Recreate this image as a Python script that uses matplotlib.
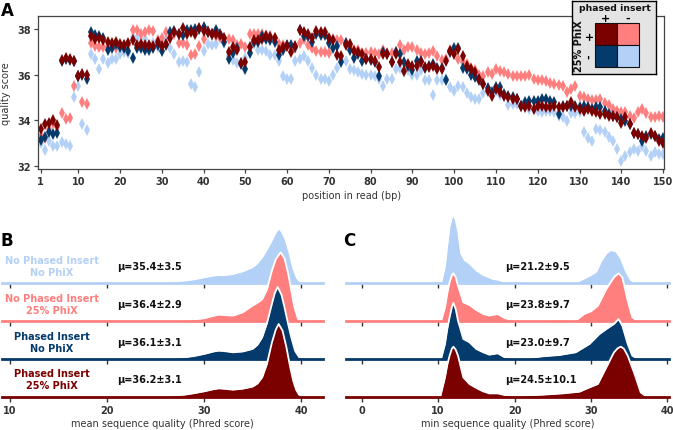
import numpy as np
import matplotlib
matplotlib.use("Agg")
import matplotlib.pyplot as plt
from matplotlib.patches import Rectangle

plt.rcParams["font.family"] = ["DejaVu Sans"]

# ---- panel A: mean quality per position ----
positions = np.arange(1, 151)

q_phased_phix = [
    33.6, 33.85, 33.9, 34.0, 33.8, 36.65, 36.75, 36.7, 36.6, 35.95,
    36.05, 36.0, 37.7, 37.55, 37.6, 37.5, 37.45, 37.4, 37.45, 37.35,
    37.3, 37.4, 37.5, 37.3, 37.35, 37.3, 37.3, 37.25, 37.45, 37.25,
    37.35, 37.6, 37.85, 37.8, 38.05, 37.8, 37.85, 37.8, 38.05, 37.9,
    37.85, 37.8, 37.8, 37.75, 37.6, 37.0, 37.2, 37.1, 36.5, 36.55,
    37.2, 37.5, 37.5, 37.55, 37.7, 37.65, 37.6, 37.1, 37.2, 37.25,
    37.0, 37.25, 37.95, 37.85, 37.8, 37.6, 37.9, 37.85, 37.85, 37.6,
    37.5, 36.85, 36.8, 37.3, 37.35, 37.05, 36.98, 36.9, 36.68, 36.68,
    36.61, 36.32, 36.9, 36.9, 36.54, 36.9, 36.54, 36.17, 36.46, 36.39,
    36.39, 36.54, 36.32, 36.32, 36.39, 36.24, 36.24, 36.61, 37.05, 36.9,
    37.12, 36.83, 36.39, 36.24, 36.1, 35.8, 35.58, 35.29, 35.07, 35.36,
    35.22, 35.07, 35.0, 34.93, 34.93, 34.63, 34.56, 34.63, 34.49, 34.63,
    34.63, 34.56, 34.56, 34.63, 34.56, 34.56, 34.63, 34.78, 34.56, 34.49,
    34.41, 34.49, 34.41, 34.34, 34.27, 34.27, 34.19, 34.19, 34.12, 33.9,
    34.12, 33.83, 33.46, 33.39, 33.31, 33.24, 33.46, 33.31, 33.1, 33.02,
]
q_phased_nophix = [
    33.15, 33.25, 33.5, 33.4, 33.45, 36.6, 36.7, 36.65, 36.6, 35.95,
    36.0, 35.8, 37.85, 37.75, 37.7, 37.6, 37.1, 37.15, 37.35, 37.2,
    37.15, 37.05, 36.75, 37.15, 37.15, 37.1, 37.1, 37.15, 37.3, 37.05,
    37.3, 37.85, 37.9, 37.8, 37.75, 37.95, 37.95, 38.0, 38.0, 38.1,
    37.85, 37.8, 37.95, 37.8, 37.45, 36.7, 36.95, 37.15, 36.45, 36.25,
    36.95, 37.45, 37.45, 37.7, 37.55, 37.5, 37.45, 36.85, 37.1, 37.3,
    37.3, 37.2, 37.95, 37.7, 37.7, 37.45, 37.8, 37.75, 37.75, 37.4,
    37.15, 37.25, 36.55, 37.4, 37.1, 36.75, 36.9, 36.6, 36.7, 36.65,
    36.55, 35.95, 37.0, 36.9, 36.55, 37.0, 36.9, 36.55, 36.4, 36.2,
    36.6, 36.6, 36.3, 36.4, 36.45, 36.3, 36.3, 35.75, 37.0, 37.15,
    37.15, 36.3, 36.25, 36.0, 35.9, 35.75, 35.6, 35.4, 35.25, 35.45,
    35.45, 35.15, 35.07, 35.0, 34.93, 34.63, 34.78, 34.85, 34.85, 34.85,
    34.93, 34.93, 34.85, 34.78, 34.27, 34.63, 34.63, 34.63, 34.63, 34.56,
    34.63, 34.56, 34.49, 34.56, 34.56, 34.41, 34.27, 34.19, 34.12, 34.05,
    33.97, 33.83, 33.46, 33.39, 33.1, 33.31, 33.39, 33.31, 33.17, 33.24,
]
q_nophased_phix = [
    33.3, 33.2, 33.6, 33.9, 33.7, 34.3, 34.05, 34.1, 35.5, 35.95,
    34.8, 34.7, 37.4, 37.25, 37.2, 37.2, 37.2, 37.25, 37.15, 37.25,
    37.3, 37.3, 37.95, 37.95, 37.8, 37.85, 37.95, 37.9, 37.5, 37.6,
    37.85, 37.6, 37.8, 37.4, 37.4, 37.3, 36.85, 36.9, 37.25, 37.55,
    37.9, 37.8, 37.7, 37.65, 37.6, 37.55, 37.5, 37.3, 37.35, 37.2,
    37.8, 37.8, 37.8, 37.8, 37.75, 37.7, 37.6, 37.35, 37.3, 37.25,
    37.2, 37.15, 37.4, 37.55, 37.3, 37.15, 37.05, 37.0, 37.0, 36.95,
    37.55, 37.5, 37.5, 37.4, 37.25, 37.1, 37.1, 36.95, 36.95, 37.0,
    36.95, 36.9, 37.1, 36.95, 36.95, 37.0, 37.3, 37.1, 37.2, 37.2,
    37.1, 36.95, 36.9, 36.95, 37.05, 36.8, 36.65, 36.7, 37.1, 36.95,
    36.7, 36.55, 36.45, 36.3, 36.2, 36.0, 35.95, 36.1, 36.05, 36.25,
    36.15, 36.1, 36.05, 35.95, 35.95, 35.95, 35.95, 36.0, 35.8, 35.75,
    35.75, 35.7, 35.65, 35.6, 35.55, 35.5, 35.25, 35.35, 35.5, 35.05,
    35.0, 34.95, 34.9, 34.9, 34.95, 34.75, 34.65, 34.5, 34.4, 34.35,
    34.35, 34.2, 34.1, 34.35, 34.5, 34.3, 34.15, 34.15, 34.2, 34.15,
]
q_nophased_nophix = [
    33.0, 32.7, 33.1, 32.85, 32.85, 33.05, 32.95, 32.85, 35.0, 35.5,
    33.85, 33.55, 36.9, 36.7, 36.25, 36.7, 36.5, 36.7, 36.7, 36.9,
    37.0, 36.95, 37.65, 37.6, 37.3, 37.55, 37.2, 37.4, 37.2, 37.35,
    37.5, 37.15, 36.9, 36.55, 36.6, 36.55, 35.6, 35.45, 36.1, 37.05,
    37.35, 37.3, 37.35, 37.6, 37.4, 36.8, 36.65, 36.5, 36.5, 36.75,
    37.2, 37.35, 37.1, 37.1, 37.05, 36.85, 36.85, 36.6, 35.95, 35.8,
    35.8, 36.6, 36.7, 36.8, 36.6, 36.3, 36.0, 35.8, 35.8, 35.7,
    36.0, 36.3, 36.65, 36.6, 36.25, 36.2, 36.1, 36.05, 36.0, 36.0,
    35.95, 35.8, 35.5, 35.8, 35.8, 36.25, 36.3, 36.1, 36.2, 36.0,
    36.0, 36.2, 35.75, 35.75, 35.1, 35.75, 35.75, 35.8, 35.45, 35.3,
    35.5, 35.45, 35.2, 35.0, 34.95, 34.95, 35.2, 35.35, 35.1, 35.3,
    35.1, 35.05, 34.65, 34.7, 34.7, 34.65, 34.65, 34.5, 34.45, 34.4,
    34.35, 34.4, 34.4, 34.35, 34.2, 34.12, 33.97, 34.3, 34.3, 34.35,
    33.5, 33.2, 33.1, 33.6, 33.55, 33.5, 33.25, 33.1, 32.75, 32.2,
    32.45, 32.6, 32.75, 32.65, 32.85, 32.65, 32.45, 32.6, 32.5, 32.5,
]

b_lb_x = [9.2, 20, 24, 26, 28, 29, 30, 31, 31.5, 32, 33, 34, 35, 35.5, 36, 36.5, 37, 37.4, 37.7, 38, 38.4, 38.8, 39.2, 39.6, 40, 40.5, 42.3]
b_lb_y = [0, 0, 0.5, 1.2, 2.7, 4, 6, 7.8, 8.3, 8.0, 9.3, 12, 16, 20, 26, 34, 43, 51, 55, 52, 44, 31, 15, 5, 1, 0, 0]
b_pk_x = [9.2, 22, 26, 28, 29, 30, 31, 31.5, 32, 33, 34, 35, 35.5, 36, 36.5, 37, 37.4, 37.9, 38.3, 38.7, 39.0, 39.3, 39.7, 40, 42.3]
b_pk_y = [0, 0, 0.4, 1, 2, 3, 5.5, 6.7, 6.3, 5.7, 9, 15.7, 18.5, 22, 32, 50.7, 62, 69, 63, 47, 31, 15, 2.3, 0.3, 0]
b_db_x = [9.2, 22, 26, 28, 29, 30, 31, 31.5, 32, 33, 34, 35, 35.5, 36, 36.5, 37, 37.3, 37.6, 38.0, 38.3, 38.7, 39.0, 39.4, 39.8, 40.2, 42.3]
b_db_y = [0, 0, 0.5, 1.7, 3, 5, 7.5, 8.3, 8, 6.7, 7.5, 10, 14, 21.7, 36, 55, 66, 72, 64, 51.7, 34, 21.7, 8, 2, 0.3, 0]
b_dr_x = [9.2, 22, 26, 28, 29, 30, 31, 31.5, 32, 33, 34, 35, 35.5, 36, 36.5, 37, 37.4, 37.7, 38.1, 38.5, 38.9, 39.2, 39.5, 39.8, 40.2, 42.3]
b_dr_y = [0, 0, 0.6, 2, 3.5, 5.3, 7.5, 8.3, 8, 7, 8, 10, 13, 19.3, 33, 54, 67, 72.7, 66, 49.3, 29, 16, 7, 2, 0.3, 0]

# ---- panel C: min sequence quality densities ----
c_lb_x = [-2.1, 10.0, 10.4, 10.9, 11.2, 11.5, 11.8, 12.0, 12.3, 12.6, 13.0, 13.5, 14.1, 15.0, 15.9, 17.2, 18.0, 18.9, 20.2, 24.1, 26.3, 28.0, 28.9, 30.0, 30.7, 31.3, 32.0, 32.6, 33.3, 33.9, 34.6, 35.2, 35.9, 40.3]
c_lb_y = [0, 0, 0.5, 17, 38, 57, 66, 69, 63, 53, 30, 23, 20, 13, 8.3, 4.3, 3.3, 0.7, 0.3, 0.3, 0.7, 0.8, 4, 8.3, 11.7, 21.7, 30, 33.3, 31.7, 25, 11.7, 3.3, 0.3, 0]
c_pk_x = [-2.1, 10.0, 10.4, 10.9, 11.2, 11.5, 11.8, 12.0, 12.3, 12.6, 13.3, 14.1, 15.0, 15.9, 16.7, 17.8, 18.7, 19.8, 24.0, 26.3, 28.0, 29.1, 30.0, 30.9, 32.0, 33.0, 33.6, 34.1, 34.8, 35.4, 36.1, 40.3]
c_pk_y = [0, 0, 0.5, 14, 28, 39, 46, 48, 44, 35.7, 19, 16.3, 11.3, 7.3, 5.7, 7.3, 3.3, 0.7, 0.7, 1.7, 0.7, 7.3, 10, 15.7, 32.3, 44, 48, 44, 20.7, 4, 0.3, 0]
c_db_x = [-2.1, 10.0, 10.4, 10.9, 11.2, 11.5, 11.8, 12.0, 12.3, 12.6, 13.3, 14.1, 15.0, 15.9, 16.7, 17.8, 18.7, 19.8, 22.0, 23.7, 25.9, 28.0, 29.8, 31.1, 32.2, 33.0, 33.6, 34.1, 34.8, 35.4, 36.1, 40.3]
c_db_y = [0, 0, 0.5, 15, 30, 41.7, 52, 56, 50, 38.3, 20, 16.7, 10, 6.7, 4.3, 5.7, 1.7, 0.7, 1, 2.7, 4, 6.7, 15, 25, 31, 35, 40, 33.3, 15, 3.3, 0.3, 0]
c_dr_x = [-2.1, 9.9, 10.3, 10.9, 11.2, 11.5, 11.8, 12.0, 12.3, 12.6, 13.3, 14.1, 15.0, 15.9, 16.7, 17.8, 18.7, 20.0, 23.7, 26.3, 28.5, 29.8, 30.9, 32.0, 33.0, 33.5, 33.9, 34.3, 34.8, 35.7, 36.5, 37.2, 40.3]
c_dr_y = [0, 0, 0.5, 19.3, 32, 41, 48, 50, 47, 41, 19.3, 12.7, 8.7, 5.3, 3.3, 3.3, 1.7, 0.7, 2, 3.3, 5, 9.3, 12.7, 29.3, 44.3, 48.5, 50, 48, 41, 22.7, 4.3, 0.3, 0]

group_names = ["No Phased Insert\nNo PhiX", "No Phased Insert\n25% PhiX",
               "Phased Insert\nNo PhiX", "Phased Insert\n25% PhiX"]
mean_stats = ["μ=35.4±3.5", "μ=36.4±2.9", "μ=36.1±3.1", "μ=36.2±3.1"]
min_stats = ["μ=21.2±9.5", "μ=23.8±9.7", "μ=23.0±9.7", "μ=24.5±10.1"]

LB, PK, DB, DR = "#b3d0f7", "#ff7f7f", "#053a6c", "#7b0000"
colors = [LB, PK, DB, DR]
DARK = "#333333"

W, H = 673, 431
fig = plt.figure(figsize=(W / 100, H / 100), dpi=100)


def box(x0, y0, x1, y1):
    return [x0 / W, 1 - y1 / H, (x1 - x0) / W, (y1 - y0) / H]


# ---------------- A ----------------
axA = fig.add_axes(box(38.3, 17.3, 664.3, 170))
for series, c in zip([q_nophased_nophix, q_nophased_phix, q_phased_nophix, q_phased_phix], colors):
    axA.plot(positions, series, linestyle="none", marker="d", ms=5.8,
             mew=0, color=c)
axA.set_xlim(0.43, 150.3)
axA.set_ylim(31.86, 38.56)
axA.set_xticks([1] + list(range(10, 151, 10)))
axA.set_yticks([32, 34, 36, 38])
for s in axA.spines.values():
    s.set_color("#444444")
    s.set_linewidth(0.9)
axA.tick_params(direction="out", length=3, width=0.9, color="#444444",
                labelsize=7, labelcolor=DARK, pad=2)
for lab in axA.get_xticklabels() + axA.get_yticklabels():
    lab.set_fontweight("bold")
axA.set_xlabel("position in read (bp)", fontsize=7, color=DARK, labelpad=3)
axA.set_ylabel("quality score", fontsize=7, color=DARK, labelpad=5)

# legend box
axL = fig.add_axes(box(572.3, 1.7, 656, 75))
axL.set_facecolor("#e4e4e4")
axL.set_xlim(572.3, 656)
axL.set_ylim(75, 1.7)
axL.set_xticks([])
axL.set_yticks([])
for s in axL.spines.values():
    s.set_color("black")
    s.set_linewidth(1)
cells = [(595, 24, DR), (617, 24, PK), (595, 46, DB), (617, 46, LB)]
for x0, y0, c in cells:
    axL.add_patch(Rectangle((x0, y0), 22, 22, facecolor=c, edgecolor="#111111", lw=0.8))
axL.text(614.5, 8.5, "phased insert", ha="center", va="center", fontsize=6.7,
         fontweight="bold", color="#111111")
axL.text(606, 18.5, "+", ha="center", va="center", fontsize=8, fontweight="bold")
axL.text(628, 18.5, "-", ha="center", va="center", fontsize=8, fontweight="bold")
axL.text(579.5, 46, "25% PhiX", ha="center", va="center", rotation=90,
         fontsize=7, fontweight="bold", color="#111111")
axL.text(589.5, 35, "+", ha="center", va="center", rotation=90, fontsize=8, fontweight="bold")
axL.text(589.5, 57, "-", ha="center", va="center", rotation=90, fontsize=8, fontweight="bold")

# ---------------- B and C ridges ----------------
baselines = [284.3, 322.3, 360.0, 397.7]
spacing = 37.8


def ridge_panel(x0, x1, xlim, ticks, xs, ys, stats, stat_x, xlabel, names=None, name_x=None):
    axes = []
    for i, (xv, yv, c) in enumerate(zip(xs, ys, colors)):
        base = baselines[i]
        ax = fig.add_axes(box(x0, base - spacing, x1, base))
        ax.patch.set_alpha(0)
        ax.set_xlim(*xlim)
        ax.set_ylim(0, spacing)
        ax.fill_between(xv, 0, yv, color=c, lw=0, clip_on=False)
        ax.plot(xv, yv, color="white", lw=1.3, clip_on=False)
        ax.axhline(0, color=c, lw=2, clip_on=False)
        for s in ax.spines.values():
            s.set_visible(False)
        ax.set_yticks([])
        ax.set_xticks(ticks)
        ax.tick_params(axis="x", direction="out", length=3.5, width=1,
                       color="#333333", labelsize=7, labelcolor=DARK, pad=2.5)
        if i < 3:
            ax.set_xticklabels([])
        else:
            for lab in ax.get_xticklabels():
                lab.set_fontweight("bold")
            ax.set_xlabel(xlabel, fontsize=7, color=DARK, labelpad=2)
        ax.text(stat_x, 17.3, stats[i], ha="left", va="center", fontsize=7,
                fontweight="bold", color="#111111")
        if names is not None:
            ax.text(name_x, 17.3, names[i], ha="center", va="center", fontsize=7,
                    fontweight="bold", color=c, linespacing=1.25)
        axes.append(ax)
    return axes


ridge_panel(2, 323, (9.18, 42.27), [10, 20, 30, 40],
            [b_lb_x, b_pk_x, b_db_x, b_dr_x], [b_lb_y, b_pk_y, b_db_y, b_dr_y],
            mean_stats, 21.0, "mean sequence quality (Phred score)",
            names=group_names, name_x=14.33)
ridge_panel(346, 669, (-2.05, 40.2), [0, 10, 20, 30, 40],
            [c_lb_x, c_pk_x, c_db_x, c_dr_x], [c_lb_y, c_pk_y, c_db_y, c_dr_y],
            min_stats, 18.73, "min sequence quality (Phred score)")

# panel letters
fig.text(1 / W, 1 - 2 / H, "A", fontsize=12, fontweight="bold", va="top", ha="left")
fig.text(1 / W, 1 - 232 / H, "B", fontsize=12, fontweight="bold", va="top", ha="left")
fig.text(343 / W, 1 - 232 / H, "C", fontsize=12, fontweight="bold", va="top", ha="left")

fig.savefig("out.png", dpi=100)
